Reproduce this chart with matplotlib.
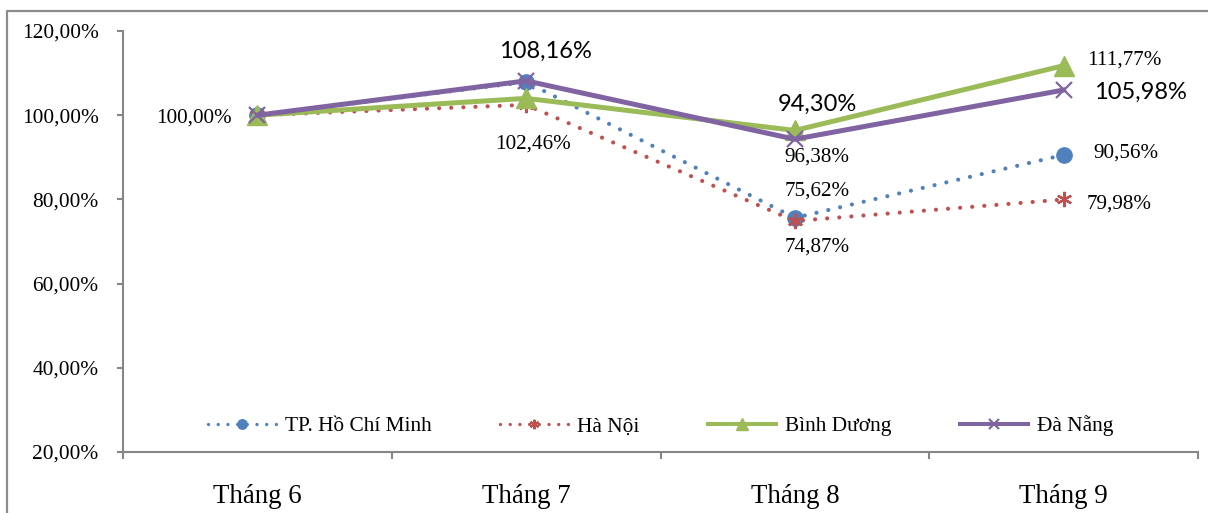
import matplotlib
matplotlib.use("Agg")
import matplotlib.pyplot as plt
from matplotlib.lines import Line2D

# ---- data ----
months = ["Tháng 6", "Tháng 7", "Tháng 8", "Tháng 9"]
hcm = [100.00, 107.90, 75.62, 90.56]
ha_noi = [100.00, 102.46, 74.87, 79.98]
binh_duong = [100.00, 104.00, 96.38, 111.77]
da_nang = [100.00, 108.16, 94.30, 105.98]
series_names = ["TP. Hồ Chí Minh", "Hà Nội", "Bình Dương", "Đà Nẵng"]
y_ticks = [20, 40, 60, 80, 100, 120]

# labelled points: (series index, month index, label offset in points, font kind)
labels = [
    (0, 0, (-46, -2), "serif"),
    (3, 1, (14, 21), "sans"),
    (1, 1, (5, -28), "serif"),
    (3, 2, (16, 25), "sans"),
    (2, 2, (16, -19), "serif"),
    (0, 2, (16, 19), "serif"),
    (1, 2, (16, -19), "serif"),
    (2, 3, (44, 4), "serif"),
    (3, 3, (55, -1.5), "sans"),
    (0, 3, (45, 1.5), "serif"),
    (1, 3, (40, -3), "serif"),
]

SERIF = "Liberation Serif"
SANS = "Lato"

def pct(v):
    return f"{v:.2f}".replace(".", ",") + "%"

W, H = 1208, 513
fig = plt.figure(figsize=(W / 100, H / 100), dpi=100)
ax = fig.add_axes([123 / W, (H - 452) / H, 1075 / W, (452 - 31) / H])

x = [i + 0.5 for i in range(len(months))]
data = [hcm, ha_noi, binh_duong, da_nang]

dots = (0, (0.01, 2.9))
ax.plot(x, hcm, color="#4F81BD", lw=3.0, linestyle=dots,
        dash_capstyle="round", marker="o", ms=11, mec="#4F81BD",
        label=series_names[0], zorder=3)
ax.plot(x, ha_noi, color="#C0504D", lw=3.0, linestyle=dots,
        dash_capstyle="round", marker=(6, 2, 0), ms=11, mew=1.6,
        label=series_names[1], zorder=3)
ax.plot(x, binh_duong, color="#9BBB59", lw=3.6, marker="^", ms=14,
        label=series_names[2], zorder=4)
ax.plot(x, da_nang, color="#8064A2", lw=3.6, marker="x", ms=12, mew=1.6,
        label=series_names[3], zorder=5)

for si, mi, off, kind in labels:
    v = data[si][mi]
    if kind == "serif":
        fam, size = SERIF, 15.2
    else:
        fam, size = SANS, 17
    ax.annotate(pct(v), (x[mi], v), xytext=off, textcoords="offset points",
                ha="center", va="center", fontsize=size, family=fam,
                color="black", zorder=6)

ax.set_xlim(0, len(months))
ax.set_ylim(20, 120)
ax.set_yticks(y_ticks)
ax.set_yticklabels([pct(t) for t in y_ticks], family=SERIF, fontsize=15.4)
ax.set_xticks(range(len(months) + 1))
ax.set_xticklabels([""] * (len(months) + 1))
ax.set_xticks(x, minor=True)
ax.set_xticklabels(months, minor=True, family=SERIF, fontsize=19.4)
ax.tick_params(axis="x", which="minor", length=0, pad=23)
ax.tick_params(axis="x", which="major", length=5, width=1.5, color="#868686")
ax.tick_params(axis="y", length=4.5, width=1.5, color="#868686", pad=13)

for s in ("top", "right"):
    ax.spines[s].set_visible(False)
for s in ("left", "bottom"):
    ax.spines[s].set_color("#868686")
    ax.spines[s].set_linewidth(1.5)

leg = ax.legend(loc="center left", bbox_to_anchor=(85 / 1075, 26 / 421),
                ncol=4, frameon=False, borderpad=0, borderaxespad=0,
                handlelength=3.2, handletextpad=0.4, columnspacing=3.2,
                markerscale=0.62, prop={"family": SERIF, "size": 15.4})
for h in leg.legend_handles:
    h.set_linewidth(h.get_linewidth() * 0.8)

# outer chart frame (left and top edges)
fig.add_artist(Line2D([7.5 / W, 7.5 / W, 1.0], [0, 1 - 11 / H, 1 - 11 / H],
                      transform=fig.transFigure, color="#8C8C8C", lw=1.6))

fig.savefig("out.png", dpi=100)
